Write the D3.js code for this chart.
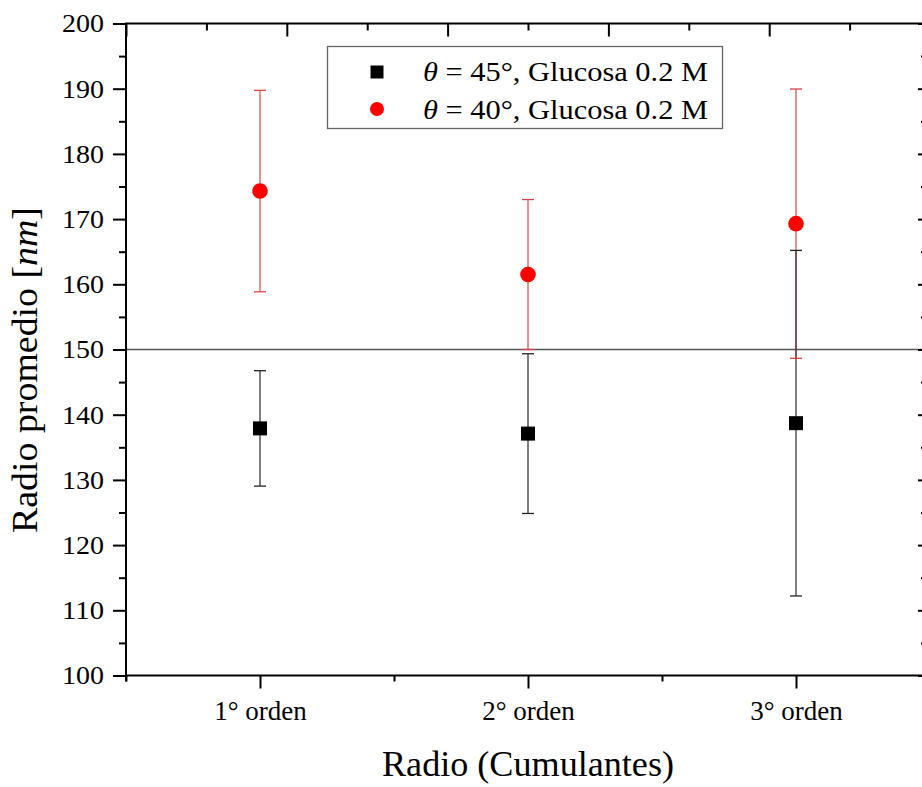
<!DOCTYPE html>
<html>
<head>
<meta charset="utf-8">
<script src="https://cdn.jsdelivr.net/npm/d3@7/dist/d3.min.js"></script>
<style>
  html, body { margin: 0; padding: 0; background: #fff; }
  svg { display: block; }
  svg text { font-family: 'Liberation Serif', 'Times New Roman', serif; }
</style>
</head>
<body>
<svg id="chart" width="922" height="787"></svg>
<script>
// ---- data ----
const categories = ["1° orden", "2° orden", "3° orden"];
const catPos = [1, 2, 3];
const series45 = [137.9, 137.1, 138.7];   // θ = 45°
const err45    = [8.85, 12.25, 26.5];
const series40 = [174.3, 161.5, 169.3];   // θ = 40°
const err40    = [15.45, 11.5, 20.65];
const yTicks = [100, 110, 120, 130, 140, 150, 160, 170, 180, 190, 200];
const yMinorTicks = [105, 115, 125, 135, 145, 155, 165, 175, 185, 195];
const xMinorTicks = [0.5, 1.5, 2.5, 3.5];
const topTicks = [0, 1, 2, 3, 4, 5];
const topMinorTicks = [0.5, 1.5, 2.5, 3.5, 4.5];
const refLine = 150;
const legendLabels = [" = 45°, Glucosa 0.2 M", " = 40°, Glucosa 0.2 M"];

// ---- layout ----
const SERIF = "'Liberation Serif', 'Times New Roman', serif";
const svg = d3.select("#chart");
const L = 126, R = 930, T = 23.5, B = 675.5;
const x = d3.scaleLinear().domain([0.5, 3.5]).range([L, R]);
const xTop = d3.scaleLinear().domain([0, 5]).range([L, R]);
const y = d3.scaleLinear().domain([100, 200]).range([B, T]);

function styleAxis(g) {
  g.attr("font-family", null);
  g.selectAll(".domain").remove();
  g.selectAll(".tick line").attr("stroke", "#000").attr("stroke-width", 2);
}

// reference line
svg.append("line")
  .attr("x1", L).attr("x2", R)
  .attr("y1", y(refLine)).attr("y2", y(refLine))
  .attr("stroke", "#555").attr("stroke-width", 1.3);

// left axis
svg.append("g").attr("transform", `translate(${L},0)`)
  .call(d3.axisLeft(y).tickValues(yMinorTicks).tickSize(7).tickFormat(""))
  .call(styleAxis);
const gl = svg.append("g").attr("transform", `translate(${L},0)`)
  .call(d3.axisLeft(y).tickValues(yTicks).tickSize(13).tickPadding(9).tickFormat(d3.format("d")))
  .call(styleAxis);
gl.selectAll(".tick text").attr("font-size", 26).attr("fill", "#000")
  .style("font-family", SERIF).attr("textLength", 42).attr("lengthAdjust", "spacingAndGlyphs");

// right axis (inward)
const gr1 = svg.append("g").attr("transform", `translate(${R},0)`)
  .call(d3.axisRight(y).tickValues(yMinorTicks).tickSize(-9).tickFormat(""))
  .call(styleAxis);
const gr2 = svg.append("g").attr("transform", `translate(${R},0)`)
  .call(d3.axisRight(y).tickValues(yTicks).tickSize(-12).tickFormat(""))
  .call(styleAxis);

// bottom axis
svg.append("g").attr("transform", `translate(0,${B})`)
  .call(d3.axisBottom(x).tickValues(xMinorTicks).tickSize(6).tickFormat(""))
  .call(styleAxis);
const gb = svg.append("g").attr("transform", `translate(0,${B})`)
  .call(d3.axisBottom(x).tickValues(catPos).tickSize(13).tickPadding(12)
    .tickFormat((d, i) => categories[i]))
  .call(styleAxis);
gb.selectAll(".tick text").attr("font-size", 27).attr("fill", "#000")
  .style("font-family", SERIF);

// top axis (inward)
svg.append("g").attr("transform", `translate(0,${T})`)
  .call(d3.axisBottom(xTop).tickValues(topMinorTicks).tickSize(7).tickFormat(""))
  .call(styleAxis);
svg.append("g").attr("transform", `translate(0,${T})`)
  .call(d3.axisBottom(xTop).tickValues(topTicks).tickSize(13).tickFormat(""))
  .call(styleAxis);

// spines
svg.append("path")
  .attr("d", `M${L},${B}H${R}M${L},${T}H${R}M${L},${T - 1}V${B + 6}M${R},${T}V${B}`)
  .attr("stroke", "#000").attr("stroke-width", 2).attr("fill", "none");

// error bars
const capW = 12;
function errBars(vals, errs, color) {
  svg.append("g").selectAll("line").data(vals).join("line")
    .attr("x1", (d, i) => x(catPos[i])).attr("x2", (d, i) => x(catPos[i]))
    .attr("y1", (d, i) => y(d + errs[i])).attr("y2", (d, i) => y(d - errs[i]))
    .attr("stroke", color).attr("stroke-width", 1.3);
}
function errCaps(vals, errs, color) {
  const caps = [];
  vals.forEach((d, i) => { caps.push([catPos[i], d + errs[i]]); caps.push([catPos[i], d - errs[i]]); });
  svg.append("g").selectAll("line").data(caps).join("line")
    .attr("x1", d => x(d[0]) - capW / 2).attr("x2", d => x(d[0]) + capW / 2)
    .attr("y1", d => y(d[1])).attr("y2", d => y(d[1]))
    .attr("stroke", color).attr("stroke-width", 1.3);
}
errBars(series40, err40, "#dd5555");
errBars(series45, err45, "#3a3a3a");
errCaps(series45, err45, "#222");
errCaps(series40, err40, "#dd4444");

// markers
const sq = 14;
svg.append("g").selectAll("rect").data(series45).join("rect")
  .attr("x", (d, i) => x(catPos[i]) - sq / 2).attr("y", d => y(d) - sq / 2)
  .attr("width", sq).attr("height", sq).attr("fill", "#000");
svg.append("g").selectAll("circle").data(series40).join("circle")
  .attr("cx", (d, i) => x(catPos[i])).attr("cy", d => y(d))
  .attr("r", 7.8).attr("fill", "#ff0000");

// legend
const lg = svg.append("g");
lg.append("rect").attr("x", 327.5).attr("y", 46.5).attr("width", 395).attr("height", 82)
  .attr("fill", "#fff").attr("stroke", "#666").attr("stroke-width", 1.3);
lg.append("rect").attr("x", 377 - 6.5).attr("y", 72 - 6.5).attr("width", 13).attr("height", 13).attr("fill", "#000");
lg.append("circle").attr("cx", 377).attr("cy", 109).attr("r", 7).attr("fill", "#ff0000");
legendLabels.forEach((t, i) => {
  const tx = lg.append("text").attr("x", 423).attr("y", 81 + i * 37.5)
    .attr("font-size", 28).attr("fill", "#000")
    .attr("textLength", 285).attr("lengthAdjust", "spacingAndGlyphs");
  tx.append("tspan").attr("font-style", "italic").text("θ");
  tx.append("tspan").text(t);
});

// axis titles
svg.append("text").attr("x", x(2)).attr("y", 776).attr("text-anchor", "middle")
  .attr("font-size", 36).attr("fill", "#000")
  .attr("textLength", 292).attr("lengthAdjust", "spacingAndGlyphs")
  .text("Radio (Cumulantes)");
const yt = svg.append("text").attr("transform", "translate(37,370) rotate(-90)")
  .attr("text-anchor", "middle").attr("font-size", 36).attr("fill", "#000")
  .attr("textLength", 326).attr("lengthAdjust", "spacingAndGlyphs");
yt.append("tspan").text("Radio promedio [");
yt.append("tspan").attr("font-style", "italic").text("nm");
yt.append("tspan").text("]");
</script>
</body>
</html>
